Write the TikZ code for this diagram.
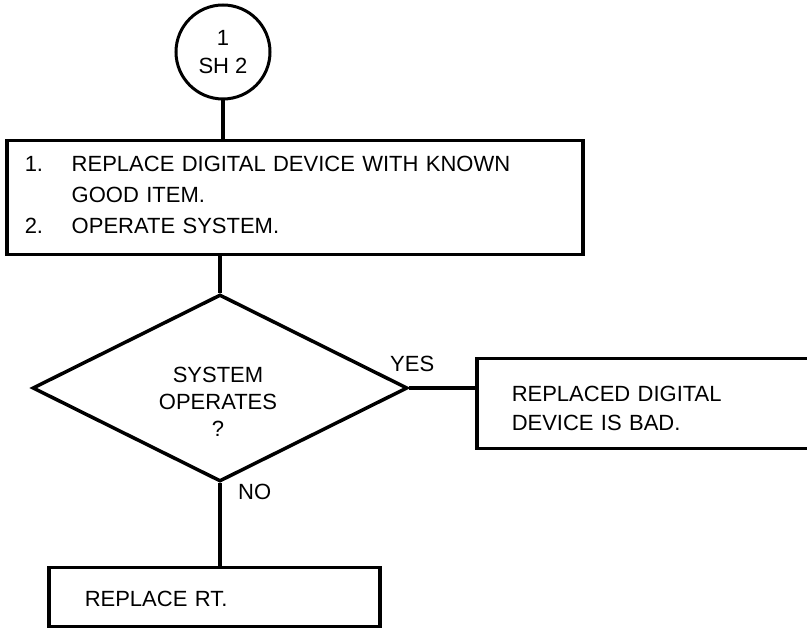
\documentclass[tikz,border=0pt]{standalone}
\usepackage{fontspec}
\setmainfont{Liberation Sans}
\usetikzlibrary{shapes.geometric, positioning}

\begin{document}
\begin{tikzpicture}[x=1pt, y=-1pt,
        every node/.style={font=\fontsize{22}{31}\selectfont},
        conn/.style={line width=3.8pt},
        sheet/.style={circle, draw, line width=3pt, minimum size=94pt, inner sep=0pt, align=center, font=\fontsize{22}{28}\selectfont},
        stepbox/.style={rectangle, draw, line width=3.5pt, align=left, inner ysep=0pt, anchor=north west},
        decision/.style={diamond, draw, line width=3.5pt, minimum width=375pt, minimum height=187pt, inner sep=0pt},
        lbl/.style={inner sep=0pt, align=center},
    ]
    \useasboundingbox (0,0) rectangle (807,628);
    \clip (0,0) rectangle (807,628);

    \node[sheet] (sh) at (223,52) {1\\SH 2};

    \node[stepbox, text width=540pt, inner xsep=18pt, text height=31pt, text depth=83pt] (act) at (5,139)
        {\makebox[47pt][l]{1.}REPLACE DIGITAL DEVICE WITH KNOWN\\\hspace*{47pt}GOOD ITEM.\\\makebox[47pt][l]{2.}OPERATE SYSTEM.};

    \node[decision] (dec) at (220,388) {};
    \node[lbl, font=\fontsize{22}{27}\selectfont] (q) at (218,402) {SYSTEM\\OPERATES\\?};

    \node[stepbox, text width=300pt, inner xsep=35pt, text height=43pt, text depth=47pt,
          font=\fontsize{22}{29}\selectfont] (bad) at (475,357)
        {REPLACED DIGITAL\\DEVICE IS BAD.};

    \node[stepbox, text width=259pt, inner xsep=36pt, text height=39pt, text depth=20pt] (rt) at (47,566)
        {REPLACE RT.};

    \node[lbl, above=16pt of dec.east, xshift=3pt] (yes) {YES};
    \node[lbl, below right=1pt and 18pt of dec.south] (no) {NO};

    \draw[conn] (sh.south) -- (sh.south |- act.north);
    \draw[conn] (dec.north |- act.south) -- (dec.north);
    \draw[conn] (dec.east) -- (dec.east -| bad.west);
    \draw[conn] (dec.south) -- (dec.south |- rt.north);
\end{tikzpicture}
\end{document}
